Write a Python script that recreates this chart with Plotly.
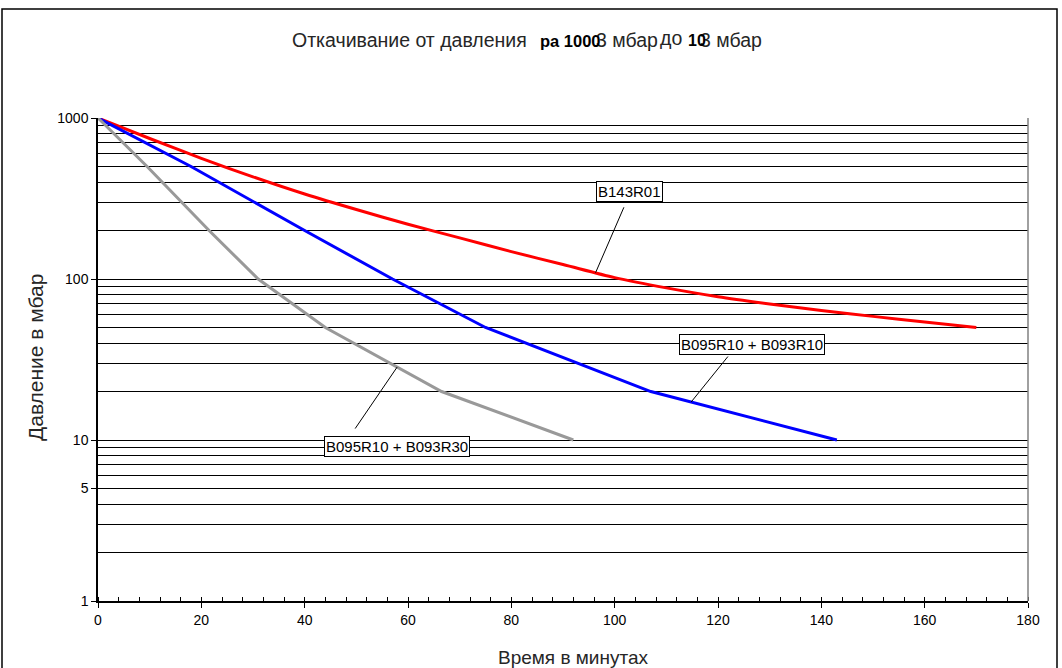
import numpy as np
import plotly.graph_objects as go

# Pump-down curves: time (min) vs pressure (mbar)
red_t = [0, 10, 20, 30, 40, 50, 60, 70, 80, 90, 100, 110, 120, 130, 140, 150, 160, 170]
red_p = [1000, 746, 562, 431, 337, 270, 219, 180, 148, 123, 102, 88.1, 77.6, 70.0, 63.8, 58.6, 54.1, 50]

blue_t = [0, 18, 40, 57, 75, 107, 143]
blue_p = [1000, 500, 200, 100, 50, 20, 10]

gray_t = [0, 9.5, 21.5, 31, 44, 66.5, 92]
gray_p = [1000, 500, 200, 100, 50, 20, 10]

series_names = ["B143R01", "B095R10 + B093R10", "B095R10 + B093R30"]
series_colors = ["#ff0000", "#0000ff", "#999999"]
series_shapes = ["spline", "linear", "linear"]

y_major = [1, 5, 10, 100, 1000]
y_minor = [2, 3, 4, 6, 7, 8, 9, 20, 30, 40, 50, 60, 70, 80, 90,
           200, 300, 400, 500, 600, 700, 800, 900]

# Callout settings: time where the leader touches the curve, leader tail offset (px),
# and label box centre offset from that point (px)
callout_t = [96.3, 114.8, 57.9]
leader_off = [(29, -67), (38, -47), (-43, 63)]
box_off = [(34, 81), (61, 58), (0, -79)]

W, H = 1062, 668
ML, MR, MT, MB = 98, 34, 118, 67
PW, PH = W - ML - MR, H - MT - MB


def px(x):
    return (x - ML) / PW


def py(y):
    return (H - MB - y) / PH


FONT = "Liberation Sans, Arial, sans-serif"

fig = go.Figure()
data = [(red_t, red_p), (blue_t, blue_p), (gray_t, gray_p)]
for (t, p), name, col, shp in zip(data, series_names, series_colors, series_shapes):
    fig.add_trace(go.Scatter(x=t, y=p, mode="lines", name=name,
                             line=dict(color=col, width=3, shape=shp, smoothing=0.8),
                             showlegend=False))

annotations = []
for (t, p), name, tc, lo, bo in zip(data, series_names, callout_t, leader_off, box_off):
    ly = float(np.interp(tc, t, np.log10(p)))
    # leader line
    annotations.append(dict(x=tc, y=ly, xref="x", yref="y", text="", showarrow=True,
                            arrowhead=0, arrowwidth=1, arrowcolor="black",
                            ax=lo[0], ay=lo[1], axref="pixel", ayref="pixel"))
    # label box
    annotations.append(dict(x=tc, y=ly, xref="x", yref="y", text=name, showarrow=False,
                            xshift=bo[0], yshift=bo[1], bgcolor="white",
                            bordercolor="black", borderwidth=1, borderpad=1,
                            font=dict(family=FONT, size=15, color="black")))

# Title pieces
title_col = "#262626"
annotations += [
    dict(x=px(290), y=py(40), xref="paper", yref="paper", xanchor="left", yanchor="middle",
         text="Откачивание от давления", showarrow=False,
         font=dict(family=FONT, size=19.5, color=title_col)),
    dict(x=px(594), y=py(40), xref="paper", yref="paper", xanchor="left", yanchor="middle",
         text="3 мбар", showarrow=False, font=dict(family=FONT, size=19.5, color=title_col)),
    dict(x=px(658), y=py(38), xref="paper", yref="paper", xanchor="left", yanchor="middle",
         text="до", showarrow=False, font=dict(family=FONT, size=19.5, color=title_col)),
    dict(x=px(698), y=py(40), xref="paper", yref="paper", xanchor="left", yanchor="middle",
         text="3 мбар", showarrow=False, font=dict(family=FONT, size=19.5, color=title_col)),
    dict(x=px(538), y=py(41), xref="paper", yref="paper", xanchor="left", yanchor="middle",
         text="<b>ра 1000</b>", showarrow=False, font=dict(family=FONT, size=16.5, color="black")),
    dict(x=px(686), y=py(41), xref="paper", yref="paper", xanchor="left", yanchor="middle",
         text="<b>10</b>", showarrow=False, font=dict(family=FONT, size=16, color="black")),
    # axis titles
    dict(x=px(573), y=py(657), xref="paper", yref="paper", xanchor="center", yanchor="middle",
         text="Время в минутах", showarrow=False, font=dict(family=FONT, size=19, color=title_col)),
    dict(x=px(35), y=py(357), xref="paper", yref="paper", xanchor="center", yanchor="middle",
         text="Давление в мбар", textangle=-90, showarrow=False,
         font=dict(family=FONT, size=21, color=title_col)),
]

shapes = [
    # right edge of the plotting area
    dict(type="line", xref="paper", yref="paper", x0=1, x1=1, y0=0, y1=1,
         line=dict(color="#808080", width=1.5)),
    # outer frame
    dict(type="rect", xref="paper", yref="paper", x0=px(2), x1=px(1057), y0=py(700), y1=py(9),
         line=dict(color="black", width=1.5), fillcolor="rgba(0,0,0,0)", layer="below"),
]

fig.update_layout(
    width=W, height=H,
    margin=dict(l=ML, r=MR, t=MT, b=MB),
    paper_bgcolor="white", plot_bgcolor="white",
    font=dict(family=FONT, size=14, color="black"),
    annotations=annotations,
    shapes=shapes,
    xaxis=dict(range=[0, 180], dtick=20, tick0=0, showgrid=False, zeroline=False,
               showline=True, linecolor="black", linewidth=1.5,
               ticks="outside", ticklen=5, tickcolor="black",
               minor=dict(dtick=4, tick0=0, ticks="inside", ticklen=4, tickcolor="black",
                          showgrid=False),
               tickfont=dict(family=FONT, size=14, color="black")),
    yaxis=dict(type="log", range=[0, 3], tickmode="array", tickvals=y_major,
               ticktext=[str(v) for v in y_major],
               showgrid=True, gridcolor="black", gridwidth=1, zeroline=False,
               showline=True, linecolor="black", linewidth=1.5,
               ticks="outside", ticklen=5, tickcolor="black",
               minor=dict(tickmode="array", tickvals=y_minor, showgrid=True,
                          gridcolor="black", gridwidth=1, ticks=""),
               tickfont=dict(family=FONT, size=14, color="black")),
)

fig.write_html("out.html")
